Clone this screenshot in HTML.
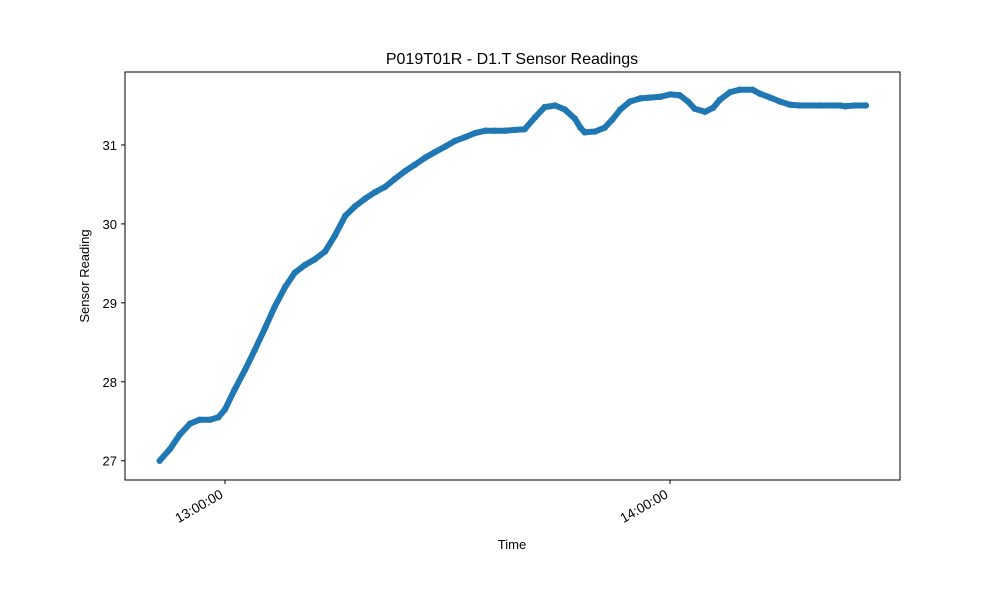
<!DOCTYPE html>
<html><head><meta charset="utf-8"><style>
body{margin:0;background:#fff;}
svg{font-family:"Liberation Sans","DejaVu Sans",sans-serif;}
</style></head><body>
<svg id="chart" width="1000" height="600" viewBox="0 0 1000 600" xmlns="http://www.w3.org/2000/svg">
<rect width="1000" height="600" fill="#fff"/>
<text x="512" y="64" text-anchor="middle" font-size="16">P019T01R - D1.T Sensor Readings</text>
<g id="plot"></g>
<text x="512" y="549" text-anchor="middle" font-size="13">Time</text>
<text transform="translate(89,276) rotate(-90)" text-anchor="middle" font-size="13">Sensor Reading</text>
</svg>
<script>
// minutes after 12:00
const times=[51.2,52.6,53.9,55.3,56.6,58.0,59.1,60,61.3,62.7,64.0,65.4,66.7,68.1,69.4,70.8,72.1,73.5,74.8,76.2,77.5,78.9,80.2,81.6,82.9,84.3,85.6,87.0,88.3,89.7,91.0,92.4,93.7,95.1,96.4,97.8,99.1,100.4,101.8,103.1,104.5,105.8,107.2,107.9,108.5,109.9,111.2,112.2,113.3,114.6,116.0,117.3,118.7,120,121.3,122.4,123.3,124.7,125.8,126.7,128.1,129.4,131.1,132.1,133.5,134.8,136.2,137.5,140.2,142.9,143.6,144.9,146.4];
const readings=[27.0,27.15,27.33,27.47,27.52,27.52,27.55,27.65,27.9,28.15,28.4,28.68,28.95,29.2,29.38,29.48,29.55,29.65,29.85,30.1,30.22,30.32,30.4,30.47,30.57,30.67,30.75,30.84,30.91,30.98,31.05,31.1,31.15,31.18,31.18,31.18,31.19,31.2,31.35,31.48,31.5,31.45,31.33,31.22,31.16,31.17,31.22,31.32,31.45,31.55,31.59,31.6,31.61,31.64,31.63,31.55,31.46,31.42,31.47,31.57,31.67,31.7,31.7,31.65,31.6,31.55,31.51,31.5,31.5,31.5,31.49,31.5,31.5];
const yTicks=[27,28,29,30,31];
const xTicks=[60,120];
const xTickLabels=["13:00:00","14:00:00"];

const L=125,R=900,T=72,B=480;
const xMin=46.52,xMax=151.0,yMin=26.756,yMax=31.924;
const sx=v=>L+(v-xMin)/(xMax-xMin)*(R-L);
const sy=v=>B-(v-yMin)/(yMax-yMin)*(B-T);
const NS="http://www.w3.org/2000/svg";
const g=document.getElementById('plot');
function mk(tag,attrs){const e=document.createElementNS(NS,tag);for(const k in attrs)e.setAttribute(k,attrs[k]);g.appendChild(e);return e;}

yTicks.forEach(v=>{
  const y=sy(v);
  const t=mk('line',{x1:L-4,x2:L,y1:y,y2:y,stroke:'#000','stroke-width':1});
  
  
  const tx=mk('text',{x:L-8,y:y+5,'text-anchor':'end','font-size':13});
  tx.textContent=v;
  
  
});
xTicks.forEach((v,i)=>{
  const x=sx(v);
  const t=mk('line',{x1:x,x2:x,y1:B,y2:B+4,stroke:'#000','stroke-width':1});
  
  
  const tx=mk('text',{x:0,y:0,'text-anchor':'end','font-size':13.5,transform:`translate(${x-1},${B+17}) rotate(-30)`});
  tx.textContent=xTickLabels[i];
  
  
});

const pts=times.map((t,i)=>sx(t).toFixed(1)+','+sy(readings[i]).toFixed(1)).join(' ');
const line=mk('polyline',{points:pts,fill:'none',stroke:'#1f77b4','stroke-width':6,'stroke-linejoin':'round','stroke-linecap':'round'});


times.forEach((t,i)=>{
  const c=mk('circle',{cx:sx(t),cy:sy(readings[i]),r:3.2,fill:'#1f77b4'});
  
  
});
const frame=mk('rect',{x:L,y:T,width:R-L,height:B-T,fill:'none',stroke:'#000','stroke-width':1});


</script>
</body></html>
